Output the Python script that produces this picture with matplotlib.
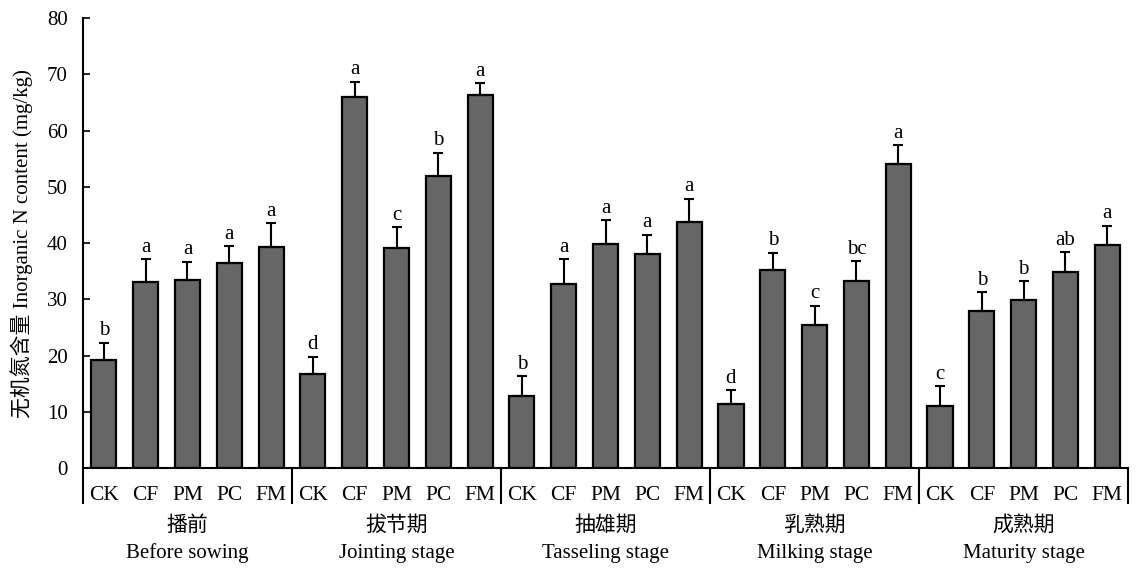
import numpy as np
import matplotlib
matplotlib.use('Agg')
import matplotlib.pyplot as plt

plt.rcParams['font.family'] = ['Liberation Serif', 'Noto Sans CJK SC']

# treatments and growth stages
treatments = ['CK', 'CF', 'PM', 'PC', 'FM']
stages_cn = ['播前', '拔节期', '抽雄期', '乳熟期', '成熟期']
stages_en = ['Before sowing', 'Jointing stage', 'Tasseling stage', 'Milking stage', 'Maturity stage']

# inorganic N (mg/kg), one list per stage
before_sowing = [19.2, 33.0, 33.5, 36.5, 39.3]
jointing = [16.8, 65.9, 39.1, 52.0, 66.3]
tasseling = [12.8, 32.7, 39.8, 38.0, 43.7]
milking = [11.3, 35.3, 25.4, 33.2, 54.0]
maturity = [11.0, 28.0, 29.8, 34.8, 39.6]

# standard deviations
sd_before_sowing = [3.1, 4.2, 3.2, 3.0, 4.2]
sd_jointing = [3.0, 2.8, 3.7, 4.1, 2.1]
sd_tasseling = [3.5, 4.4, 4.3, 3.5, 4.2]
sd_milking = [2.6, 3.0, 3.5, 3.6, 3.4]
sd_maturity = [3.6, 3.3, 3.5, 3.6, 3.5]

# significance letters
sig_before_sowing = ['b', 'a', 'a', 'a', 'a']
sig_jointing = ['d', 'a', 'c', 'b', 'a']
sig_tasseling = ['b', 'a', 'a', 'a', 'a']
sig_milking = ['d', 'b', 'c', 'bc', 'a']
sig_maturity = ['c', 'b', 'b', 'ab', 'a']

means = np.concatenate([before_sowing, jointing, tasseling, milking, maturity])
sds = np.concatenate([sd_before_sowing, sd_jointing, sd_tasseling, sd_milking, sd_maturity])
letters = sig_before_sowing + sig_jointing + sig_tasseling + sig_milking + sig_maturity

n = len(treatments)
x = np.arange(len(means))

fig = plt.figure(figsize=(11.46, 5.68), dpi=100)
ax = fig.add_axes([0.0724, 0.176, 0.912, 0.792])

ax.bar(x, means, width=0.6, color='#666666', edgecolor='black', linewidth=1.6, zorder=2)
ax.errorbar(x, means, yerr=[np.zeros_like(sds), sds], fmt='none', ecolor='black',
            elinewidth=1.5, capsize=3.3, capthick=1.5, zorder=3)

for xi, m, s, lab in zip(x, means, sds, letters):
    ax.text(xi, m + s + 0.4, lab, ha='center', va='bottom', fontsize=15)

ax.set_xlim(-0.5, len(means) - 0.5)
ax.set_ylim(0, 80)
ax.set_yticks(np.arange(0, 81, 10))
ax.tick_params(axis='y', direction='in', length=5, width=1.2, labelsize=15, pad=11)
ax.set_xticks(x)
ax.set_xticklabels(treatments * len(stages_cn), fontsize=15.5)
ax.tick_params(axis='x', length=0, pad=13)

for side in ['top', 'right']:
    ax.spines[side].set_visible(False)
ax.spines['left'].set_linewidth(1.5)
ax.spines['bottom'].set_linewidth(1.5)

# group separators below the axis
trans = ax.get_xaxis_transform()
for b in np.arange(-0.5, len(means), n):
    ax.plot([b, b], [0, -0.078], color='black', lw=1.5, transform=trans, clip_on=False)

# stage names
for i, (cn, en) in enumerate(zip(stages_cn, stages_en)):
    cx = i * n + (n - 1) / 2
    ax.text(cx, -0.129, cn, transform=trans, ha='center', va='center', fontsize=15)
    ax.text(cx, -0.19, en, transform=trans, ha='center', va='center', fontsize=15)

ax.set_ylabel('无机氮含量 Inorganic N content (mg/kg)', fontsize=15, labelpad=10)

fig.savefig('out.png', dpi=100)
